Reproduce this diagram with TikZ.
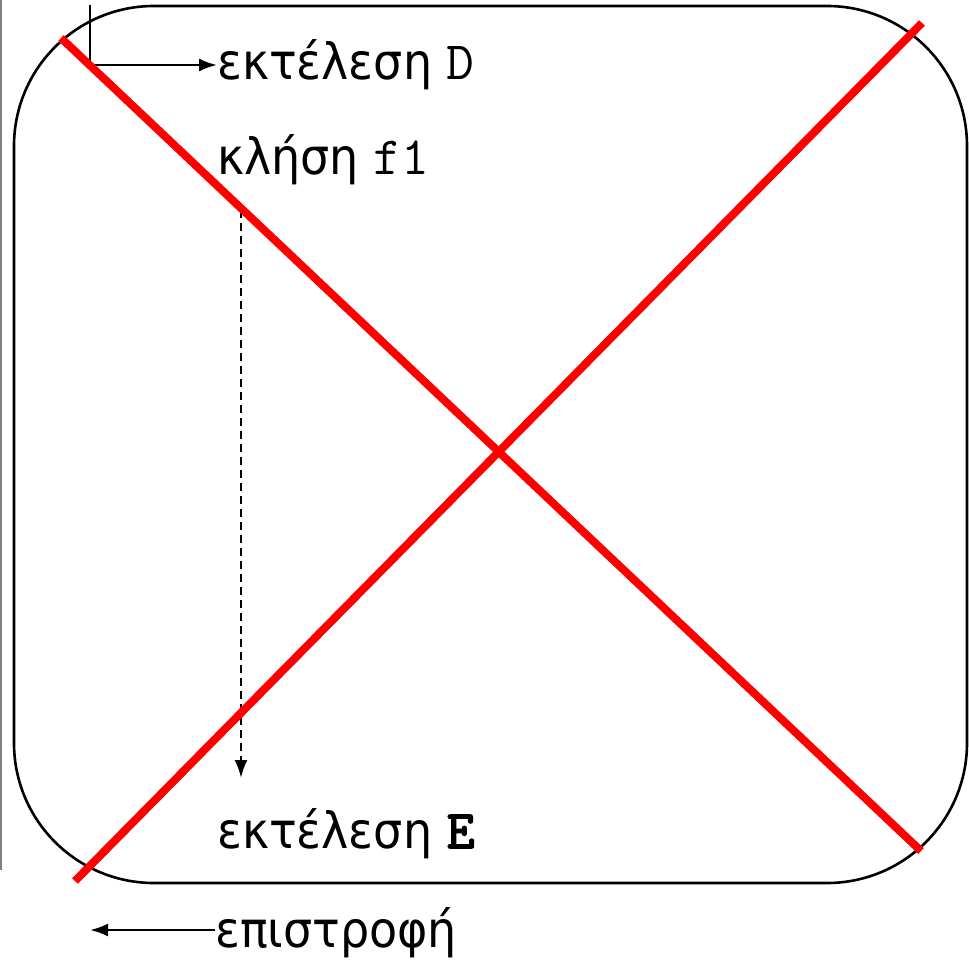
\documentclass[tikz,border=0pt]{standalone}
\usepackage{fontspec}
\setmainfont{DejaVu Sans}[FakeStretch=0.92]
\newfontfamily\cour{Latin Modern Mono}[Scale=1.08]
\newfontfamily\courb{Latin Modern Mono}[Scale=1.08, FakeBold=3]
\usetikzlibrary{arrows.meta}
\tikzset{
  lbl/.style={anchor=base west, inner sep=0pt, font=\fontsize{50}{60}\selectfont},
  cross/.style={red, line width=8pt},
  flow/.style={line width=2.4pt, -{Latex[length=18pt,width=13pt]}},
}
\begin{document}
\begin{tikzpicture}[x=1pt, y=-1pt]
\useasboundingbox (0,0) rectangle (969,960);
% περίγραμμα
\draw[gray, line width=2pt] (1,0) -- (1,870);
\draw[line width=2.6pt, rounded corners=140pt] (14,6) rectangle (967,883);
% κείμενα
\node[lbl] (exD) at (217,80) {εκτέλεση {\cour D}};
\node[lbl] (call) at (217,175) {κλήση {\cour f1}};
\node[lbl] (exE) at (217,848) {εκτέλεση {\courb E}};
\node[lbl] (ret) at (215,947) {επιστροφή};
% βέλη
\coordinate (entry) at (90,5);
\coordinate (back) at (90,930);
\coordinate (dtop) at (241,210);
\coordinate (dbot) at (241,778);
\draw[flow] (entry) |- ([yshift=15pt]exD.base west);
\draw[flow, dash pattern=on 8pt off 5pt] (dtop) -- (dbot);
\draw[flow] ([yshift=17pt]ret.base west) -- (back);
% το Χ
\coordinate (a1) at (61,38);
\coordinate (a2) at (921,851);
\coordinate (b1) at (75,881);
\coordinate (b2) at (922,23);
\draw[cross] (a1) -- (a2);
\draw[cross] (b1) -- (b2);
\end{tikzpicture}
\end{document}
